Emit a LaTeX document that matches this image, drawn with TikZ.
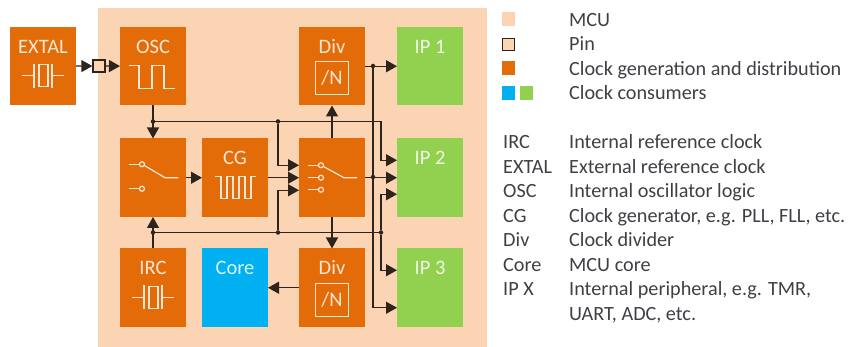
\documentclass[tikz,border=0pt]{standalone}
\usepackage{fontspec}
\setmainfont{Carlito}
\usepackage{xcolor}
\usetikzlibrary{arrows.meta, positioning}

\definecolor{mcucol}{HTML}{FBD4B4}
\definecolor{clkcol}{HTML}{E36C09}
\definecolor{ipcol}{HTML}{92D050}
\definecolor{corecol}{HTML}{00B0F0}
\definecolor{symcol}{HTML}{FCE6D4}
\definecolor{wirecol}{HTML}{2E241C}
\definecolor{txtcol}{HTML}{3F4045}

\begin{document}
\begin{tikzpicture}[
    x=1pt, y=-1pt,
    box/.style={minimum width=66pt, minimum height=78.5pt, inner sep=0pt, outer sep=0pt,
      text height=10pt, text depth=36pt, align=center,
      font=\fontsize{20.5}{22}\selectfont},
    clk/.style={box, fill=clkcol, text=symcol},
    ipx/.style={box, fill=ipcol, text=white!85!ipcol},
    corex/.style={box, fill=corecol, text=white!85!corecol},
    divn/.style={draw=symcol, line width=1.3pt, text=symcol, minimum size=33pt,
      inner sep=0pt, font=\fontsize{20.5}{22}\selectfont},
    pinx/.style={draw=wirecol, fill=mcucol, line width=1.3pt, minimum size=12pt, inner sep=0pt},
    dot/.style={circle, fill=wirecol, minimum size=4.5pt, inner sep=0pt},
    wire/.style={draw=wirecol, line width=1.3pt},
    arr/.style={wire, -{Triangle[length=11pt, width=12pt]}},
    sym/.style={draw=symcol, line width=1.2pt},
    swatch/.style={minimum size=13.5pt, inner sep=0pt},
    leg/.style={anchor=base west, inner sep=0pt, text=txtcol,
      font=\fontsize{20.2}{22}\selectfont},
    crystal/.pic={
      \draw[sym] (-21,0) -- (-9,0) (-9,-12) -- (-9,12);
      \draw[sym] (-4,-11) rectangle (5,11);
      \draw[sym] (9,-12) -- (9,12) (9,0) -- (21,0);
    },
    contact/.pic={
      \draw[sym] (-13,0) -- (-2.5,0);
      \draw[sym] (0,0) circle (2.5);
    }
  ]
  \useasboundingbox (0,0) rectangle (855,347);

  \node[fill=mcucol, minimum width=389pt, minimum height=339pt, inner sep=0pt, outer sep=0pt, anchor=north west] (mcu) at (97.5,8) {};

  % top row
  \node[clk, anchor=north west] (extal) at (10,27) {EXTAL};
  \node[clk, right=44pt of extal] (osc) {OSC};
  \node[clk, right=113pt of osc] (divt) {Div};
  \node[ipx, right=32pt of divt] (ip1) {IP 1};
  % middle row
  \node[clk, below=33pt of osc] (swa) {};
  \node[clk, right=16pt of swa] (cg) {CG};
  \node[clk, right=31pt of cg] (swb) {};
  \node[ipx, right=32pt of swb] (ip2) {IP 2};
  % bottom row
  \node[clk, below=31.5pt of swa] (irc) {IRC};
  \node[corex, right=16pt of irc] (core) {Core};
  \node[clk, right=31pt of core] (divb) {Div};
  \node[ipx, right=32pt of divb] (ip3) {IP 3};

  \node[pinx] (pin) at (99,66) {};
  \node[divn] (ndivt) at ([yshift=-12pt]divt.center) {/N};
  \node[divn] (ndivb) at ([yshift=-12pt]divb.center) {/N};

  % symbols inside the boxes
  \pic at ([yshift=-9.5pt]extal.center) {crystal};
  \pic at ([yshift=-9.5pt]irc.center) {crystal};
  \draw[sym] ([xshift=-24pt,yshift=1pt]osc.center) -- ++(10,0) -- ++(0,23) -- ++(13,0) -- ++(0,-23)
    -- ++(12,0) -- ++(0,23) -- ++(11,0);
  \draw[sym] ([xshift=-20pt,yshift=1pt]cg.center) -- ++(6,0) -- ++(0,22) -- ++(6,0) -- ++(0,-22)
    -- ++(6,0) -- ++(0,22) -- ++(6,0) -- ++(0,-22) -- ++(6,0) -- ++(0,22) -- ++(6,0) -- ++(0,-22) -- ++(5,0);
  \pic at ([xshift=-11pt,yshift=13.5pt]swa.center) {contact};
  \pic at ([xshift=-11pt,yshift=-11pt]swa.center) {contact};
  \draw[sym] ([xshift=-8.7pt,yshift=12.3pt]swa.center) -- ([xshift=12pt]swa.center) -- ++(13,0);
  \pic at ([xshift=-11pt,yshift=12.5pt]swb.center) {contact};
  \pic at ([xshift=-11pt]swb.center) {contact};
  \pic at ([xshift=-11pt,yshift=-12pt]swb.center) {contact};
  \draw[sym] ([xshift=-8.7pt,yshift=11.3pt]swb.center) -- ([xshift=12pt]swb.center) -- ++(13,0);

  % junctions
  \node[dot] (jo) at (osc.south |- 0,121.5) {};
  \node[dot] (jt) at (278,121.5) {};
  \node[dot] (ji) at (irc.north |- 0,232.5) {};
  \node[dot] (jm) at (278,232.5) {};
  \node[dot] (jr) at (381,232.5) {};
  \node[dot] (jd) at (373,66) {};
  \node[dot] (jq) at (373,177) {};
  \coordinate (ip2a) at ([yshift=17.5pt]ip2.west);
  \coordinate (ip2b) at ([yshift=-16.5pt]ip2.west);
  \coordinate (ip3a) at ([yshift=17.5pt]ip3.west);
  \coordinate (ip3b) at ([yshift=-20pt]ip3.west);
  \coordinate (swbt) at ([yshift=12.5pt]swb.west);
  \coordinate (swbd) at ([yshift=-12.5pt]swb.west);

  \draw[arr] (extal) -- (pin);
  \draw[arr] (pin) -- (osc);
  \draw[arr] (osc) -- (swa);
  \draw[arr] (irc) -- (swa);
  \draw[arr] (swa) -- (cg);
  \draw[arr] (cg) -- (swb);
  \draw[arr] (swb) -- (divt);
  \draw[arr] (swb) -- (divb);
  \draw[arr] (divb) -- (core);
  \draw[arr] (divt) -- (ip1);
  \draw[arr] (swb) -- (ip2);

  \draw[wire] (jo) -- (jt);
  \draw[arr] (jt) -- (jr |- jt) -- (jr |- ip2a) -- (ip2a);
  \draw[arr] (jt) -- (jt |- swbt) -- (swbt);
  \draw[wire] (ji) -- (jm) -- (jr);
  \draw[arr] (jm) -- (jm |- swbd) -- (swbd);
  \draw[arr] (jr) -- (jr |- ip2b) -- (ip2b);
  \draw[arr] (jr) -- (jr |- ip3a) -- (ip3a);
  \draw[wire] (jd) -- (jq);
  \draw[arr] (jq) -- (jq |- ip3b) -- (ip3b);

  % legend
  \node[swatch, fill=mcucol] (lgmcu) at (508.5,19) {};
  \node[swatch, pinx, minimum size=12pt] (lgpin) at (508.5,44.5) {};
  \node[swatch, fill=clkcol] (lgclk) at (508.5,68) {};
  \node[swatch, fill=corecol] (lgcore) at (508.5,93) {};
  \node[swatch, fill=ipcol] (lgip) at (526.5,93) {};
  \node[leg] (tmcu) at (569,26.5) {MCU};
  \node[leg] (tpin) at (569,51) {Pin};
  \node[leg] (tclk) at (569,75.5) {Clock generation and distribution};
  \node[leg] (tcons) at (569,100) {Clock consumers};

  \node[leg] (kirc) at (503,149) {IRC};
  \node[leg] (kext) at (503,173.5) {EXTAL};
  \node[leg] (kosc) at (503,198) {OSC};
  \node[leg] (kcg) at (503,222.5) {CG};
  \node[leg] (kdiv) at (503,247) {Div};
  \node[leg] (kcore) at (503,271.5) {Core};
  \node[leg] (kip) at (503,296) {IP X};
  \node[leg] (virc) at (569,149) {Internal reference clock};
  \node[leg] (vext) at (569,173.5) {External reference clock};
  \node[leg] (vosc) at (569,198) {Internal oscillator logic};
  \node[leg] (vcg) at (569,222.5) {Clock generator, e.g. PLL, FLL, etc.};
  \node[leg] (vdiv) at (569,247) {Clock divider};
  \node[leg] (vcore) at (569,271.5) {MCU core};
  \node[leg] (vip) at (569,296) {Internal peripheral, e.g. TMR,};
  \node[leg] (vipb) at (569,320.5) {UART, ADC, etc.};
\end{tikzpicture}
\end{document}
